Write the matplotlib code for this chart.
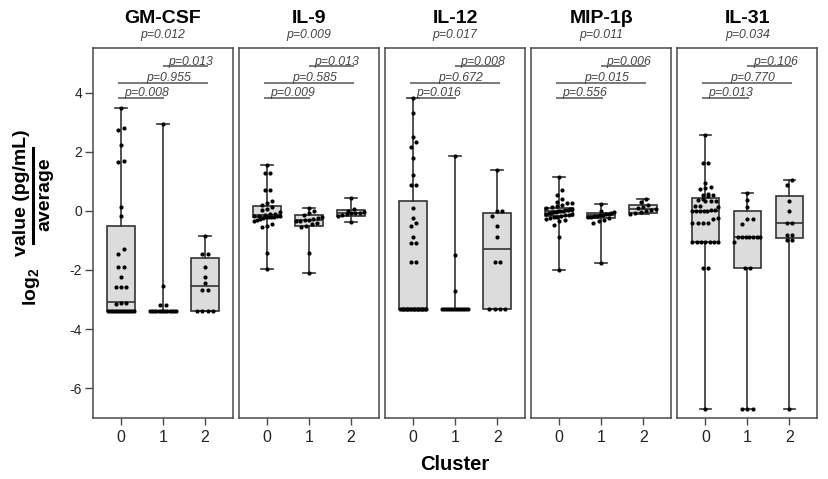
import numpy as np
import matplotlib
matplotlib.use('Agg')
import matplotlib.pyplot as plt
from matplotlib.lines import Line2D

plt.rcParams['font.family'] = ['Liberation Sans', 'DejaVu Sans']
plt.rcParams['mathtext.fontset'] = 'custom'
plt.rcParams['mathtext.rm'] = 'Liberation Sans'
plt.rcParams['mathtext.bf'] = 'Liberation Sans:bold'
plt.rcParams['mathtext.it'] = 'Liberation Sans:italic'

# ---------------- data ----------------
cytokines = ['GM-CSF', 'IL-9', 'IL-12', 'MIP-1β', 'IL-31']
overall_p = ['p=0.012', 'p=0.009', 'p=0.017', 'p=0.011', 'p=0.034']
# pairwise p: (0 vs 1, 0 vs 2, 1 vs 2)
pair_p = [
    ['p=0.008', 'p=0.955', 'p=0.013'],
    ['p=0.009', 'p=0.585', 'p=0.013'],
    ['p=0.016', 'p=0.672', 'p=0.008'],
    ['p=0.556', 'p=0.015', 'p=0.006'],
    ['p=0.013', 'p=0.770', 'p=0.106'],
]
pairs = [(0, 1), (0, 2), (1, 2)]
clusters = ['0', '1', '2']
yticks = [-6, -4, -2, 0, 2, 4]

# box statistics per cluster: (min, q1, median, q3, max)
gmcsf_stats = [(-3.38, -3.38, -3.10, -0.50, 3.48),
               (-3.38, -3.38, -3.38, -3.38, 2.93),
               (-3.38, -3.38, -2.53, -1.60, -0.85)]
il9_stats = [(-1.98, -0.21, -0.15, 0.18, 1.56),
             (-2.10, -0.50, -0.32, -0.14, 0.09),
             (-0.37, -0.19, -0.08, 0.02, 0.43)]
il12_stats = [(-3.33, -3.33, -3.33, 0.34, 3.81),
              (-3.33, -3.33, -3.33, -3.33, 1.86),
              (-3.33, -3.33, -1.30, -0.08, 1.37)]
mip_stats = [(-2.00, -0.17, -0.02, 0.09, 1.16),
             (-1.78, -0.25, -0.15, -0.08, 0.23),
             (-0.10, -0.08, 0.06, 0.20, 0.40)]
il31_stats = [(-6.69, -1.04, 0.01, 0.45, 2.55),
              (-6.69, -1.92, -0.89, 0.00, 0.62),
              (-6.69, -0.93, -0.40, 0.50, 1.05)]

# individual observations per cluster
gmcsf_c0 = [3.48, 2.80, 2.72, 2.24, 1.70, 1.64, 0.13, -0.19, -1.30, -1.46, -1.91, -1.91,
            -2.23, -2.59, -2.59, -2.59, -3.13, -3.15, -3.13] + [-3.38] * 14
gmcsf_c1 = [2.93, -2.56, -3.19, -3.19] + [-3.38] * 13
gmcsf_c2 = [-0.85, -1.47, -1.47, -1.91, -2.23, -2.43, -2.68, -2.68] + [-3.38] * 4

il9_c0 = [1.56, 1.28, 1.28, 0.71, 0.71, 0.32, 0.28, 0.20, 0.12, 0.05, 0.02, -0.05, -0.10,
          -0.12, -0.14, -0.16, -0.17, -0.18, -0.19, -0.20, -0.20, -0.21, -0.22, -0.24,
          -0.26, -0.30, -0.35, -0.45, -0.50, -0.55, -1.43, -1.98]
il9_c1 = [0.09, 0.00, -0.07, -0.14, -0.20, -0.25, -0.28, -0.30, -0.32, -0.34, -0.36,
          -0.40, -0.45, -0.50, -0.55, -1.43, -2.10]
il9_c2 = [0.43, 0.05, 0.00, -0.03, -0.06, -0.08, -0.09, -0.12, -0.15, -0.18, -0.37]

il12_c0 = [3.81, 3.31, 2.50, 2.32, 2.15, 1.79, 1.22, 0.86, 0.86, 0.11, -0.25, -0.40,
           -0.53, -0.89, -1.10, -1.10, -1.72, -1.72] + [-3.33] * 20
il12_c1 = [1.86, -1.49, -2.70] + [-3.33] * 14
il12_c2 = [1.37, -0.02, -0.02, -0.19, -0.53, -0.89, -1.72, -1.72] + [-3.33] * 4

mip_c0 = [1.16, 0.71, 0.54, 0.40, 0.30, 0.26, 0.26, 0.20, 0.15, 0.12, 0.09, 0.06, 0.05,
          0.04, 0.02, 0.00, 0.00, -0.02, -0.04, -0.05, -0.06, -0.08, -0.10, -0.12,
          -0.13, -0.15, -0.17, -0.20, -0.22, -0.25, -0.28, -0.30, -0.36, -0.47, -0.87, -2.00]
mip_c1 = [0.23, 0.00, -0.05, -0.08, -0.10, -0.12, -0.14, -0.15, -0.16, -0.18, -0.20,
          -0.22, -0.25, -0.30, -0.36, -0.42, -1.78]
mip_c2 = [0.40, 0.30, 0.20, 0.12, 0.08, 0.06, 0.04, 0.00, -0.05, -0.08, -0.10]

il31_c0 = [2.55, 1.62, 1.62, 0.94, 0.80, 0.77, 0.74, 0.56, 0.54, 0.52, 0.50, 0.40, 0.36,
           0.34, 0.34, 0.32, 0.17, 0.17, 0.14, 0.03, 0.02, 0.01, 0.01, 0.00, 0.00, -0.01,
           -0.25, -0.27, -0.42, -0.42, -0.42, -0.42, -1.04, -1.04, -1.04, -1.04, -1.04,
           -1.04, -1.04, -1.94, -1.94, -6.69]
il31_c1 = [0.62, 0.37, 0.13, -0.28, -0.28, -0.44, -0.89, -0.89, -0.89, -0.89, -0.89,
           -0.89, -0.89, -1.04, -1.92, -1.92, -6.69, -6.69, -6.69]
il31_c2 = [1.05, 0.88, 0.34, 0.01, -0.40, -0.40, -0.81, -0.81, -1.00, -1.00, -6.69]

all_stats = [gmcsf_stats, il9_stats, il12_stats, mip_stats, il31_stats]
all_points = [[gmcsf_c0, gmcsf_c1, gmcsf_c2],
              [il9_c0, il9_c1, il9_c2],
              [il12_c0, il12_c1, il12_c2],
              [mip_c0, mip_c1, mip_c2],
              [il31_c0, il31_c1, il31_c2]]

# ---------------- styling ----------------
W, H = 829, 479
dark = '#333333'
edge = '#4a4a4a'
fill = '#dcdcdc'
ptxt = '#444444'
ylim = (-7.0, 5.5)
xlim = (-0.667, 2.667)

fig = plt.figure(figsize=(W / 100, H / 100), dpi=100)

panel_left_px = 93.0
panel_step_px = 146.1
panel_w_px = 140.0
top_px, bot_px = 48.3, 417.7


def swarm_offsets(vals, px_y, px_x, dot_px=5.2, maxw=0.62):
    vals = np.asarray(vals, dtype=float)
    order = np.argsort(vals)
    offs = np.zeros(len(vals))
    tol = dot_px / px_y
    groups = []
    cur = [order[0]]
    for idx in order[1:]:
        if vals[idx] - vals[cur[0]] < tol:
            cur.append(idx)
        else:
            groups.append(cur)
            cur = [idx]
    groups.append(cur)
    for g in groups:
        n = len(g)
        if n == 1:
            continue
        s = dot_px / px_x
        if (n - 1) * s > maxw:
            s = maxw / (n - 1)
        o = (np.arange(n) - (n - 1) / 2) * s
        for k, idx in enumerate(g):
            offs[idx] = o[k]
    return offs


line_y = [3.83, 4.34, 4.89]
line_x = {(0, 1): (-0.07, 1.03), (0, 2): (-0.07, 2.07), (1, 2): (1.0, 2.07)}

for i, name in enumerate(cytokines):
    l = (panel_left_px + i * panel_step_px) / W
    b = 1 - bot_px / H
    ax = fig.add_axes([l, b, panel_w_px / W, (bot_px - top_px) / H])
    ax.set_xlim(*xlim)
    ax.set_ylim(*ylim)

    stats = []
    for j, (lo, q1, med, q3, hi) in enumerate(all_stats[i]):
        stats.append(dict(whislo=lo, q1=q1, med=med, q3=q3, whishi=hi, label=clusters[j]))
    ax.bxp(stats, positions=[0, 1, 2], widths=0.66, capwidths=0.28, showfliers=False,
           patch_artist=True,
           boxprops=dict(facecolor=fill, edgecolor=dark, linewidth=1.2),
           medianprops=dict(color=dark, linewidth=1.2),
           whiskerprops=dict(color=dark, linewidth=1.2),
           capprops=dict(color=dark, linewidth=1.2), zorder=2)

    px_y = (bot_px - top_px) / (ylim[1] - ylim[0])
    px_x = panel_w_px / (xlim[1] - xlim[0])
    for j, pts in enumerate(all_points[i]):
        offs = swarm_offsets(pts, px_y, px_x)
        ax.scatter(j + offs, pts, s=9, color='black', zorder=4, linewidths=0)

    # pairwise p-values with underline bars
    for k, (a, c) in enumerate(pairs):
        x0, x1 = line_x[(a, c)]
        y = line_y[k]
        ax.plot([x0, x1], [y, y], color='#555555', lw=1.1, zorder=3, solid_capstyle='butt')
        ax.text((x0 + x1) / 2 + 0.13, y + 0.06, pair_p[i][k], ha='center', va='baseline',
                fontsize=8.8, style='italic', color=ptxt)

    # titles
    ax.text(0.5, 1.068, name, transform=ax.transAxes, ha='center', va='baseline',
            fontsize=14, fontweight='bold', color='black')
    ax.text(0.5, 1.036, overall_p[i], transform=ax.transAxes, ha='center', va='center',
            fontsize=8.8, style='italic', color=ptxt)

    ax.set_xticks([0, 1, 2])
    ax.set_xticklabels(clusters, fontsize=11.5, color='#222222')
    ax.tick_params(axis='x', length=5, width=1.0, color=edge, pad=4)
    if i == 0:
        ax.set_yticks(yticks)
        ax.set_yticklabels([str(t) for t in yticks], fontsize=10, color='#222222')
        ax.tick_params(axis='y', length=6, width=1.0, color=edge, pad=2)
    else:
        ax.set_yticks([])
    for sp in ax.spines.values():
        sp.set_color(edge)
        sp.set_linewidth(1.1)

# y label: log2 (value / average)
fig.text(21.5 / W, 1 - 193 / H, 'value (pg/mL)', rotation=90, ha='center', va='center',
         fontsize=14, fontweight='bold')
fig.text(45 / W, 1 - 194 / H, 'average', rotation=90, ha='center', va='center',
         fontsize=14, fontweight='bold')
fig.add_artist(Line2D([33 / W, 33 / W], [1 - 148 / H, 1 - 243 / H], color='black',
                      lw=2.2, transform=fig.transFigure))
fig.text(32 / W, 1 - 287 / H, r'log$_{\mathbf{2}}$', rotation=90, ha='center', va='center',
         fontsize=14, fontweight='bold')

fig.text(455 / W, 1 - 464 / H, 'Cluster', ha='center', va='center', fontsize=14.5,
         fontweight='bold')

fig.savefig('out.png', dpi=100)
